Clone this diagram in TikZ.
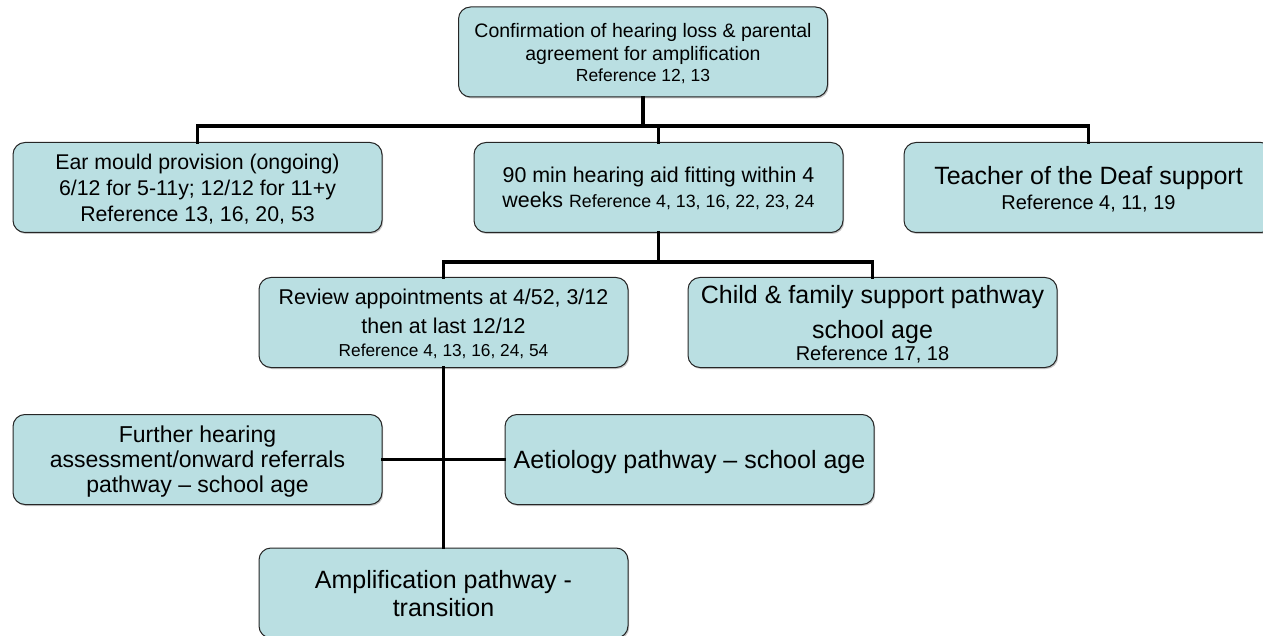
\documentclass[tikz,border=0pt]{standalone}
\usepackage{fontspec}
\setmainfont{Liberation Sans}
\usetikzlibrary{shadows}
\definecolor{boxfill}{RGB}{186,223,226}
\tikzset{
  pbox/.style={draw=black!85, line width=1pt, fill=boxfill, rounded corners=12pt,
    minimum width=369pt, minimum height=90pt, align=center, inner sep=2pt, text=black,
    text depth=0pt,
    drop shadow={shadow xshift=1.2pt, shadow yshift=-1.5pt, opacity=0.45}},
  conn/.style={draw=black, line width=3.4pt, line join=miter, line cap=rect}
}
\newcommand{\fsz}[2]{\fontsize{#1}{#2}\selectfont}
\begin{document}
\begin{tikzpicture}[x=1pt,y=-1pt]
\useasboundingbox (0,0) rectangle (1263,636);
\node[pbox, font=\fsz{19.5}{23}] (top) at (643,52)
  {\fsz{19.5}{23}Confirmation of hearing loss \& parental\\
   \fsz{19.5}{23}agreement for amplification\\[-2pt]
   \fsz{17.5}{23}Reference 12, 13};
\node[pbox, font=\fsz{21.3}{26}] (ear) at (197.5,187.5)
  {\fsz{21.3}{26}Ear mould provision (ongoing)\\
   \fsz{21.3}{26}6/12 for 5-11y; 12/12 for 11+y\\
   \fsz{21.3}{26}Reference 13, 16, 20, 53};
\node[pbox, font=\fsz{21.4}{25}] (fit) at (658.5,187.5)
  {\fsz{21.4}{25}90 min hearing aid fitting within 4\\
   \fsz{21.4}{25}weeks {\fsz{17.8}{25}Reference 4, 13, 16, 22, 23, 24}};
\node[pbox, font=\fsz{25}{25}] (teach) at (1088.5,187.5)
  {\fsz{25}{25}Teacher of the Deaf support\\
   \fsz{20}{25}Reference 4, 11, 19};
\node[pbox, font=\fsz{21.4}{29}] (rev) at (443.5,322.5)
  {\fsz{21.4}{29}Review appointments at 4/52, 3/12\\
   \fsz{21.4}{29}then at last 12/12\\[-6pt]
   \fsz{17.3}{29}Reference 4, 13, 16, 24, 54};
\node[pbox, font=\fsz{25}{35}] (child) at (872.5,322.5)
  {\fsz{25}{35}Child \& family support pathway\\
   \fsz{25}{35}school age\\[-13pt]
   \fsz{20}{35}Reference 17, 18};
\node[pbox, font=\fsz{23}{25}] (fur) at (197.5,459.5)
  {\fsz{23}{25}Further hearing\\
   \fsz{23}{25}assessment/onward referrals\\
   \fsz{23}{25}pathway – school age};
\node[pbox, font=\fsz{25}{27}] (aet) at (689.5,459.5)
  {\fsz{25}{27}Aetiology pathway – school age};
\node[pbox, font=\fsz{25}{28}] (amp) at (443.5,593)
  {\fsz{25}{28}Amplification pathway -\\
   \fsz{25}{28}transition};
\coordinate (h1) at (0,126);
\coordinate (h2) at (0,262);
\draw[conn] (top.south) -- (top.south |- h1);
\draw[conn] (ear.north) -- (ear.north |- h1) -- (teach.north |- h1) -- (teach.north);
\draw[conn] (fit.north |- h1) -- (fit.north);
\draw[conn] (fit.south) -- (fit.south |- h2);
\draw[conn] (rev.north) -- (rev.north |- h2) -- (child.north |- h2) -- (child.north);
\draw[conn] (rev.south) -- (amp.north);
\draw[conn] (fur.east) -- (aet.west);
\end{tikzpicture}
\end{document}
